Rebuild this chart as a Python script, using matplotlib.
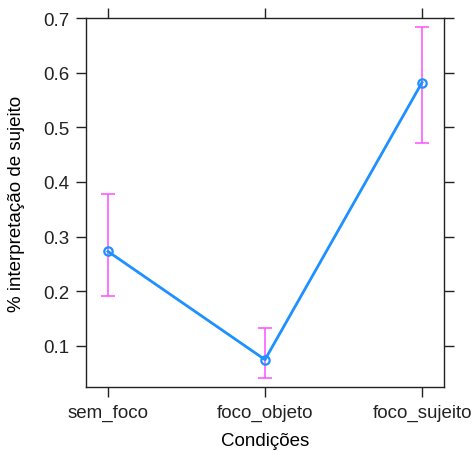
import numpy as np
import matplotlib.pyplot as plt

plt.rcParams['font.family'] = ['Liberation Sans', 'DejaVu Sans']

# Dados
condicoes = ["sem_foco", "foco_objeto", "foco_sujeito"]
estimativa = [0.273, 0.075, 0.582]
inferior = [0.191, 0.041, 0.471]
superior = [0.378, 0.133, 0.684]

W, H = 473, 452
fig = plt.figure(figsize=(W / 100, H / 100), dpi=100)
ax = fig.add_axes([86 / W, 1 - 388 / H, (444 - 86) / W, (388 - 19) / H])

x = np.arange(len(condicoes))
est = np.array(estimativa)
erro = [est - np.array(inferior), np.array(superior) - est]

ax.errorbar(x, est, yerr=erro, fmt='none', ecolor='#ff4dff', elinewidth=1.1,
            capsize=5.3, capthick=1.1, zorder=2)
ax.plot(x, est, color='#1e90ff', lw=2, marker='o', markersize=6,
        markerfacecolor='none', markeredgewidth=1.6, zorder=3)

ax.set_xlim(-0.14, 2.14)
ax.set_ylim(0.025, 0.7)
ax.set_xticks(x)
ax.set_xticklabels(condicoes)
ax.set_yticks([0.1, 0.2, 0.3, 0.4, 0.5, 0.6, 0.7])
ax.tick_params(direction='out', length=7, width=1, labelsize=13.5, colors='#222222',
               top=True, right=True, labeltop=False, labelright=False, pad=5)
for s in ax.spines.values():
    s.set_linewidth(1)
    s.set_color('#222222')

ax.set_xlabel('Condições', fontsize=13.5)
ax.set_ylabel('% interpretação de sujeito', fontsize=13.5)
ax.xaxis.set_label_coords(0.5, -(442 - 388) / (388 - 19))
ax.yaxis.set_label_coords(-(86 - 16) / (444 - 86), 0.5)
ax.xaxis.label.set_va('center')
ax.yaxis.label.set_va('center')

fig.savefig('out.png', dpi=100)
